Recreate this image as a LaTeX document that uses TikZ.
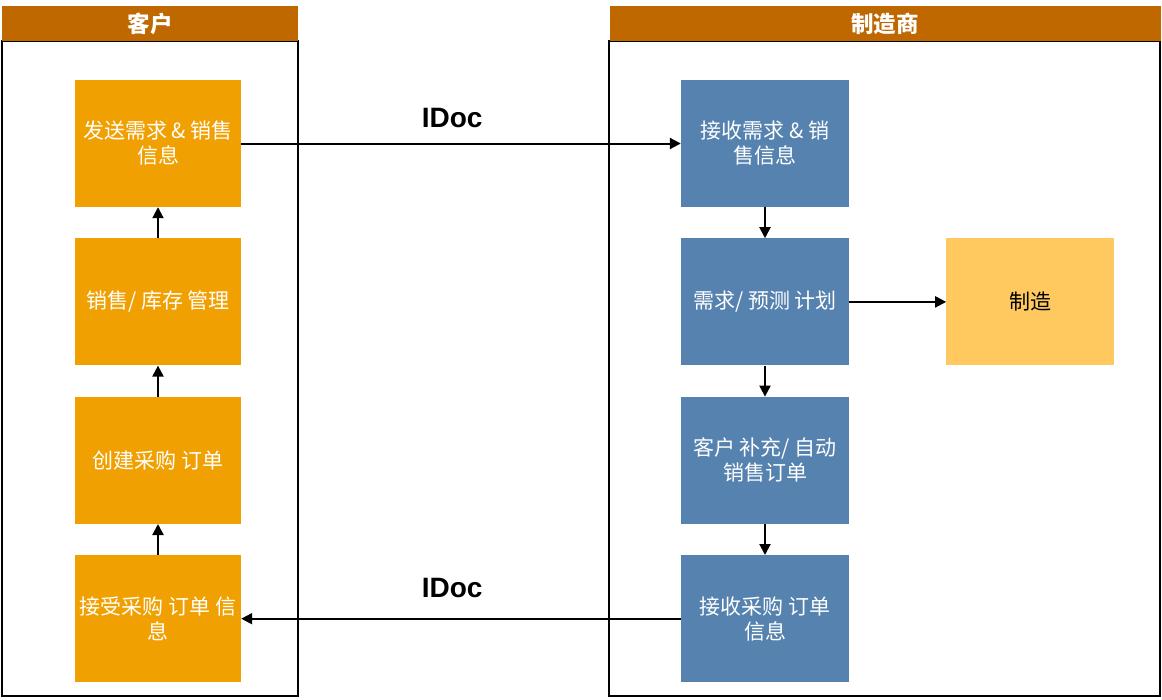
\documentclass[tikz,border=0pt]{standalone}
\usepackage{fontspec}
\setmainfont{Liberation Sans}
\newfontfamily\cjk{Noto Sans CJK SC}
\usetikzlibrary{arrows.meta,positioning}
\definecolor{laneHead}{RGB}{191,104,0}
\definecolor{custBox}{RGB}{240,160,0}
\definecolor{mfgBox}{RGB}{86,130,175}
\definecolor{prodBox}{RGB}{255,201,96}
\tikzset{%
  >={Triangle[width=11pt,length=11pt]},
  % Specifications for style of nodes:
        base/.style = {rectangle, minimum height=127pt, inner sep=2pt,
                       text centered, align=center, text=white,
                       font=\cjk\fontsize{21}{25}\selectfont},
    customer/.style = {base, minimum width=166pt, fill=custBox},
       maker/.style = {base, minimum width=168pt, fill=mfgBox},
     product/.style = {base, minimum width=168pt, fill=prodBox, text=black},
    lanehead/.style = {rectangle, fill=laneHead, text=white, inner sep=0pt,
                       font=\cjk\bfseries\fontsize{22.5}{26}\selectfont},
        lane/.style = {draw=black, line width=2pt},
        link/.style = {->, line width=2pt},
        idoc/.style = {font=\bfseries\fontsize{28}{30}\selectfont}
}
\begin{document}
\begin{tikzpicture}[x=1pt, y=-1pt, node distance=31pt]
  \useasboundingbox (0,0) rectangle (1162,699);
  % Swim lanes
  \draw[lane] (2,41) rectangle (298,696);
  \draw[lane] (609,41) rectangle (1160,696);
  \node (custHead) [lanehead, minimum width=296pt, minimum height=35pt]
        at (150,23.5) {客户};
  \node (mfgHead)  [lanehead, minimum width=551pt, minimum height=35pt]
        at (885,23.5) {制造商};
  % Customer side
  \node (send)    [customer] at (158,143.5) {发送需求 \& 销售\\信息};
  \node (manage)  [customer, below=of send]   {销售/ 库存 管理};
  \node (create)  [customer, below=of manage] {创建采购 订单};
  \node (accept)  [customer, below=of create] {接受采购 订单 信\\息};
  % Manufacturer side
  \node (receive) [maker] at (765,143.5) {接收需求 \& 销\\售信息};
  \node (plan)    [maker, below=of receive] {需求/ 预测 计划};
  \node (order)   [maker, below=of plan]    {客户 补充/ 自动\\销售订单};
  \node (recvPO)  [maker, below=of order]   {接收采购 订单\\信息};
  \node (build)   [product, right=97pt of plan] {制造};
  % Connectors
  \draw[link] (accept) -- (create);
  \draw[link] (create) -- (manage);
  \draw[link] (manage) -- (send);
  \draw[link] (receive) -- (plan);
  \draw[link] (plan) -- (order);
  \draw[link] (order) -- (recvPO);
  \draw[link] (plan) -- (build);
  \draw[link] (send) -- node[idoc, pos=0.48, above=11pt] {IDoc} (receive);
  \draw[link] (recvPO) -- node[idoc, pos=0.52, above=17pt] {IDoc} (accept);
\end{tikzpicture}
\end{document}
